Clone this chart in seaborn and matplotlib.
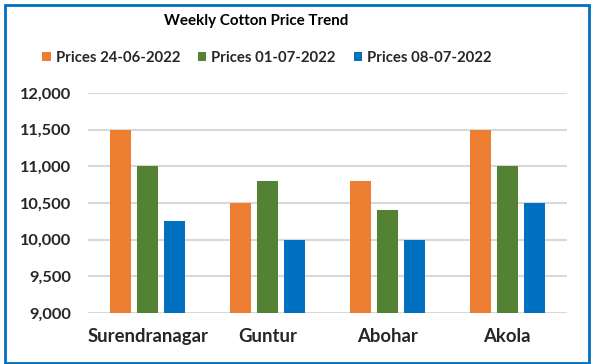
import matplotlib
matplotlib.use("Agg")
import matplotlib.pyplot as plt
import seaborn as sns
import pandas as pd
from matplotlib.patches import Rectangle

markets = ["Surendranagar", "Guntur", "Abohar", "Akola"]
series = ["Prices 24-06-2022", "Prices 01-07-2022", "Prices 08-07-2022"]
p_24_06 = [11500, 10500, 10800, 11500]
p_01_07 = [11000, 10800, 10400, 11000]
p_08_07 = [10250, 10000, 10000, 10500]
yticks = [9000, 9500, 10000, 10500, 11000, 11500, 12000]
colors = ["#ED7D31", "#548235", "#0070C0"]

rows = []
for s, vals in zip(series, [p_24_06, p_01_07, p_08_07]):
    for m, v in zip(markets, vals):
        rows.append({"Market": m, "Series": s, "Price": v})
df = pd.DataFrame(rows)

sns.set_theme(style="white")
plt.rcParams["font.family"] = ["Lato", "DejaVu Sans"]
plt.rcParams["font.weight"] = "bold"

fig = plt.figure(figsize=(5.95, 3.64), dpi=100)
ax = fig.add_axes([0.148, 0.140, 0.805, 0.605])
sns.barplot(data=df, x="Market", y="Price", hue="Series", palette=colors,
            width=0.675, gap=0.22, ax=ax, legend=True, saturation=1, linewidth=0)

ax.set_ylim(9000, 12000)
ax.set_yticks(yticks)
ax.set_yticklabels([f"{t:,}" for t in yticks], fontsize=11.8, fontweight="bold")
ax.set_xticklabels(markets, fontsize=13.3, fontweight="bold")
ax.set_xlabel("")
ax.set_ylabel("")
ax.yaxis.grid(True, color="#D9D9D9", linewidth=1.5)
ax.set_axisbelow(True)
for sp in ax.spines.values():
    sp.set_visible(False)
ax.tick_params(axis="y", length=0, pad=12)
ax.tick_params(axis="x", length=0, pad=11)

handles, labels = ax.get_legend_handles_labels()
ax.get_legend().remove()
fig.legend(handles, labels, loc="center", bbox_to_anchor=(267 / 595, 1 - 58 / 364),
           ncol=3, frameon=False, handlelength=0.55, handleheight=0.55,
           handletextpad=0.35, columnspacing=1.2, borderpad=0,
           prop={"weight": "bold", "size": 10.7})

fig.text(256 / 595, 1 - 21 / 364, "Weekly Cotton Price Trend", ha="center", va="center",
         fontsize=10.9, fontweight="bold", color="#000000")

fig.patches.append(Rectangle((5 / 595, 1 / 364), 584 / 595, 358 / 364, transform=fig.transFigure,
                             fill=False, edgecolor="#0070C0", linewidth=2))

fig.savefig("out.png", dpi=100)
